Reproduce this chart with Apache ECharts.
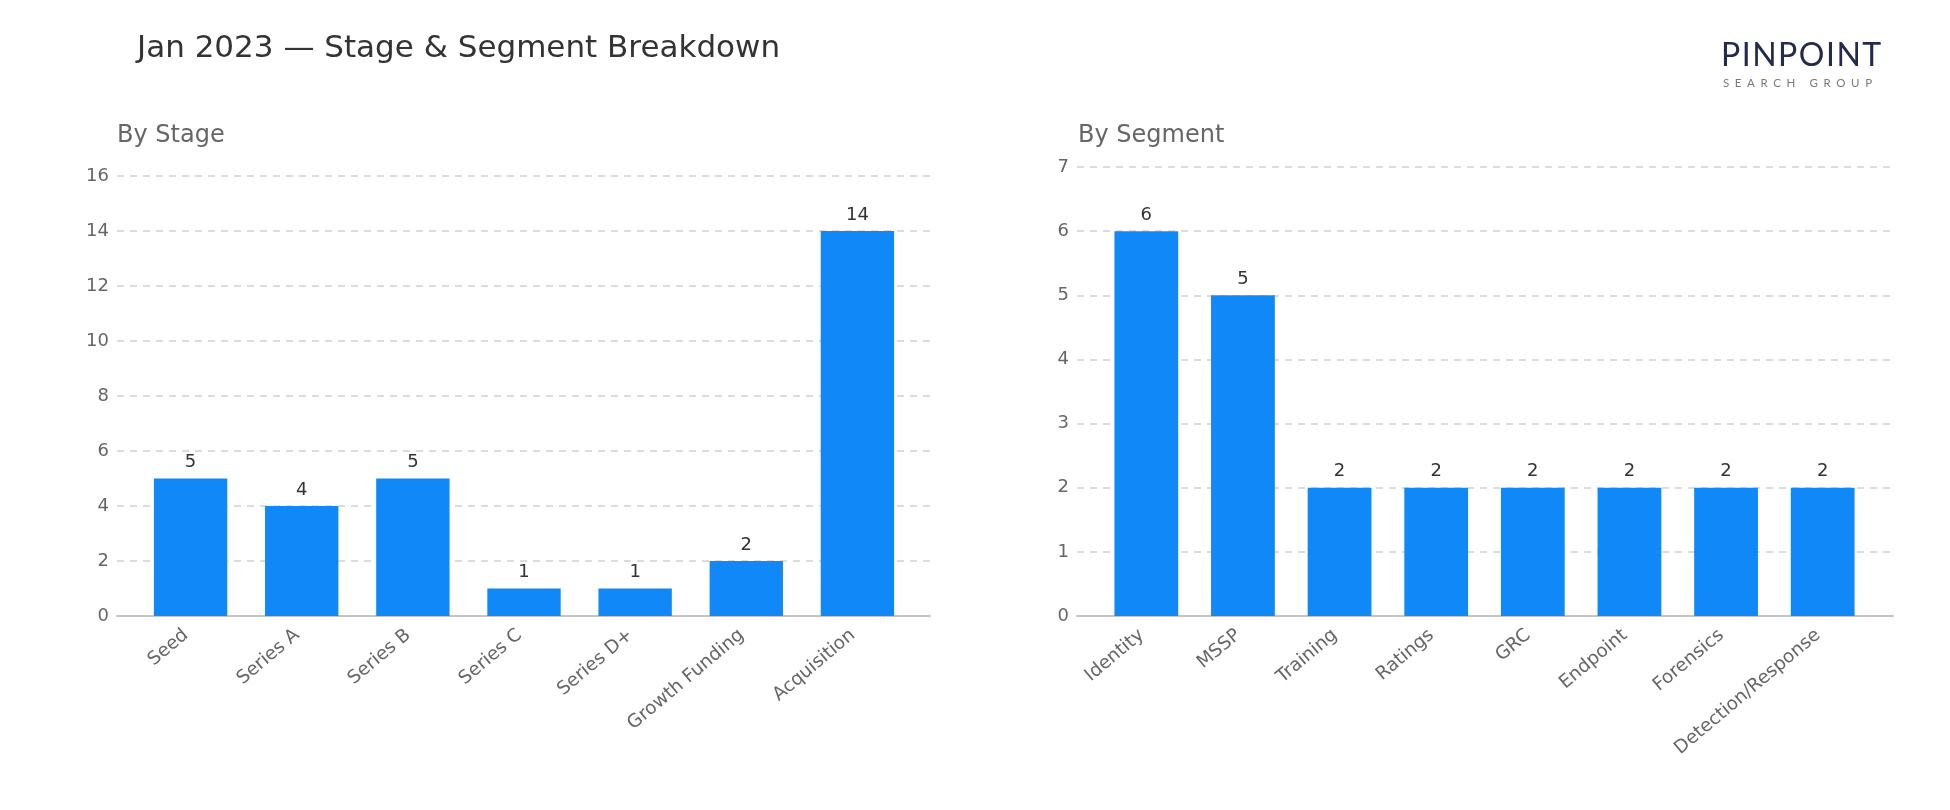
<!DOCTYPE html>
<html>
<head>
<meta charset="utf-8">
<script src="https://cdn.jsdelivr.net/npm/echarts@6/dist/echarts.min.js"></script>
<style>
html,body{margin:0;padding:0;background:#fff;}
#chart{width:1950px;height:810px;}
</style>
</head>
<body>
<div id="chart"></div>
<script>
const stageCategories = ['Seed', 'Series A', 'Series B', 'Series C', 'Series D+', 'Growth Funding', 'Acquisition'];
const stageValues = [5, 4, 5, 1, 1, 2, 14];
const segmentCategories = ['Identity', 'MSSP', 'Training', 'Ratings', 'GRC', 'Endpoint', 'Forensics', 'Detection/Response'];
const segmentValues = [6, 5, 2, 2, 2, 2, 2, 2];
const stageTicks = {max: 16, interval: 2};
const segmentTicks = {max: 7, interval: 1};
const mainTitle = 'Jan 2023 \u2014 Stage & Segment Breakdown';
const leftTitle = 'By Stage';
const rightTitle = 'By Segment';
const logoWord = 'PINPOINT';
const logoSub = 'SEARCH GROUP';

const FONT = '"DejaVu Sans", sans-serif';
const BAR = '#1188F8';

function measure(text, font) {
  const c = document.createElement('canvas').getContext('2d');
  c.font = font;
  return c.measureText(text).width;
}
function spacedLetters(str, x0, y, size, spacing, color, weight, family) {
  const out = [];
  let x = x0;
  for (const ch of str) {
    const f = weight + ' ' + size + 'px ' + family;
    const w = measure(ch, f);
    if (ch !== ' ') {
      out.push({type: 'text', left: x, top: y, silent: true,
        style: {text: ch, fill: color, font: f}});
    }
    x += w + spacing;
  }
  return out;
}

const chart = echarts.init(document.getElementById('chart'), null, {renderer: 'canvas'});

function outerX(gi) {
  return {type: 'value', gridIndex: gi, min: 0, max: 1,
    axisLine: {show: true, onZero: false, lineStyle: {color: '#c4c4c4', width: 2}},
    axisTick: {show: false}, axisLabel: {show: false}, splitLine: {show: false}};
}
function outerY(t, gi) {
  return {type: 'value', gridIndex: gi, min: 0, max: t.max, interval: t.interval,
    axisLine: {show: false}, axisTick: {show: false},
    axisLabel: {color: '#666', fontSize: 18, fontFamily: FONT, margin: 8},
    splitLine: {lineStyle: {color: '#dcdcdc', width: 2, type: [7, 6]}}};
}
function innerX(cats, gi) {
  return {type: 'category', data: cats, gridIndex: gi,
    axisLine: {show: false}, axisTick: {show: false},
    axisLabel: {rotate: 40, color: '#666', fontSize: 18.4, fontFamily: FONT, margin: 13,
      padding: [0, 6, 0, 0], interval: 0}};
}
function innerY(t, gi) {
  return {type: 'value', gridIndex: gi, min: 0, max: t.max, interval: t.interval, show: false,
    splitLine: {show: false}};
}
function barSeries(vals, idx, width) {
  return {
    type: 'bar', data: vals, xAxisIndex: idx, yAxisIndex: idx, barWidth: width,
    itemStyle: {color: BAR},
    label: {show: true, position: 'top', distance: 7, color: '#333', fontSize: 18, fontFamily: FONT}
  };
}

const logoFamily = 'Lato, "Open Sans", sans-serif';
const graphics = []
  .concat(spacedLetters(logoWord, 1721, 40, 32, 1.5, '#232a4d', 'normal', logoFamily))
  .concat(spacedLetters(logoSub, 1723, 77, 11.5, 5.6, '#7a7a7a', 'normal', logoFamily));

chart.setOption({
  backgroundColor: '#fff',
  animation: false,
  title: [
    {text: mainTitle, left: 132, top: 28, textStyle: {color: '#333', fontSize: 31, fontWeight: 'normal', fontFamily: FONT}},
    {text: leftTitle, left: 112, top: 119, textStyle: {color: '#666', fontSize: 24, fontWeight: 'normal', fontFamily: FONT}},
    {text: rightTitle, left: 1073, top: 119, textStyle: {color: '#666', fontSize: 24, fontWeight: 'normal', fontFamily: FONT}}
  ],
  grid: [
    {left: 117, right: 1020, top: 176, bottom: 194},
    {left: 135, right: 1037, top: 176, bottom: 194},
    {left: 1077, right: 57, top: 167, bottom: 194},
    {left: 1098, right: 79, top: 167, bottom: 194}
  ],
  xAxis: [outerX(0), innerX(stageCategories, 1), outerX(2), innerX(segmentCategories, 3)],
  yAxis: [outerY(stageTicks, 0), innerY(stageTicks, 1), outerY(segmentTicks, 2), innerY(segmentTicks, 3)],
  series: [barSeries(stageValues, 1, '66%'), barSeries(segmentValues, 3, '66%')],
  graphic: graphics
});
</script>
</body>
</html>
